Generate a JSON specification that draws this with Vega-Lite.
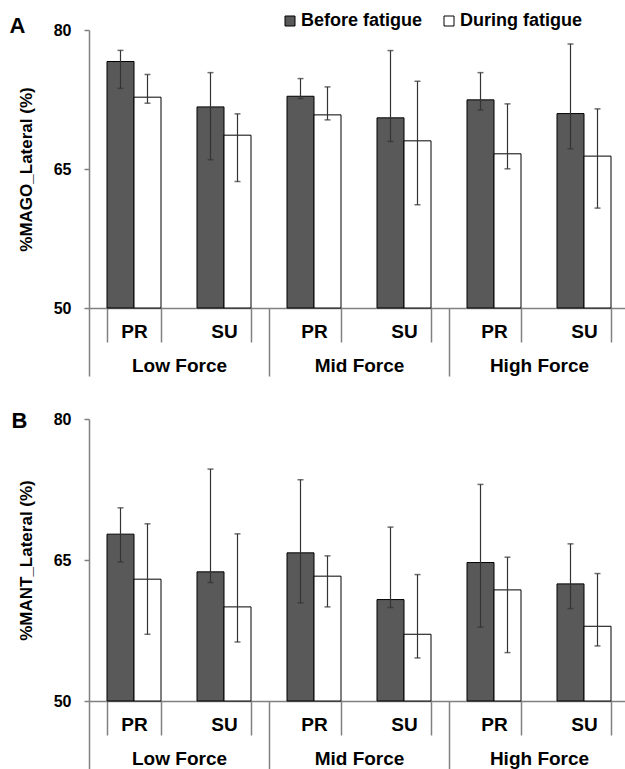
{
  "$schema": "https://vega.github.io/schema/vega-lite/v6.json",
  "padding": {"left": 9, "top": 12, "right": 0, "bottom": 0},
  "background": "white",
  "config": {
    "view": {"stroke": null},
    "font": "Liberation Sans",
    "axis": {"labelColor": "black", "titleColor": "black", "labelFont": "Liberation Sans", "titleFont": "Liberation Sans"}
  },
  "datasets": {
    "A": [
      {"force": "Low Force", "cond": "PR", "cat": "Low Force|PR", "time": "Before fatigue", "value": 76.6, "lo": 73.7, "hi": 77.8},
      {"force": "Low Force", "cond": "PR", "cat": "Low Force|PR", "time": "During fatigue", "value": 72.75, "lo": 72.1, "hi": 75.2},
      {"force": "Low Force", "cond": "SU", "cat": "Low Force|SU", "time": "Before fatigue", "value": 71.7, "lo": 66.0, "hi": 75.4},
      {"force": "Low Force", "cond": "SU", "cat": "Low Force|SU", "time": "During fatigue", "value": 68.65, "lo": 63.65, "hi": 70.95},
      {"force": "Mid Force", "cond": "PR", "cat": "Mid Force|PR", "time": "Before fatigue", "value": 72.85, "lo": 72.6, "hi": 74.76},
      {"force": "Mid Force", "cond": "PR", "cat": "Mid Force|PR", "time": "During fatigue", "value": 70.84, "lo": 70.3, "hi": 73.86},
      {"force": "Mid Force", "cond": "SU", "cat": "Mid Force|SU", "time": "Before fatigue", "value": 70.52, "lo": 67.97, "hi": 77.78},
      {"force": "Mid Force", "cond": "SU", "cat": "Mid Force|SU", "time": "During fatigue", "value": 68.04, "lo": 61.14, "hi": 74.47},
      {"force": "High Force", "cond": "PR", "cat": "High Force|PR", "time": "Before fatigue", "value": 72.46, "lo": 71.38, "hi": 75.4},
      {"force": "High Force", "cond": "PR", "cat": "High Force|PR", "time": "During fatigue", "value": 66.64, "lo": 65.02, "hi": 72.03},
      {"force": "High Force", "cond": "SU", "cat": "High Force|SU", "time": "Before fatigue", "value": 70.98, "lo": 67.18, "hi": 78.49},
      {"force": "High Force", "cond": "SU", "cat": "High Force|SU", "time": "During fatigue", "value": 66.39, "lo": 60.78, "hi": 71.49}
    ],
    "B": [
      {"force": "Low Force", "cond": "PR", "cat": "Low Force|PR", "time": "Before fatigue", "value": 67.75, "lo": 64.8, "hi": 70.55},
      {"force": "Low Force", "cond": "PR", "cat": "Low Force|PR", "time": "During fatigue", "value": 62.96, "lo": 57.1, "hi": 68.85},
      {"force": "Low Force", "cond": "SU", "cat": "Low Force|SU", "time": "Before fatigue", "value": 63.74, "lo": 62.6, "hi": 74.67},
      {"force": "Low Force", "cond": "SU", "cat": "Low Force|SU", "time": "During fatigue", "value": 60.01, "lo": 56.28, "hi": 67.78},
      {"force": "Mid Force", "cond": "PR", "cat": "Mid Force|PR", "time": "Before fatigue", "value": 65.76, "lo": 60.44, "hi": 73.54},
      {"force": "Mid Force", "cond": "PR", "cat": "Mid Force|PR", "time": "During fatigue", "value": 63.28, "lo": 60.01, "hi": 65.44},
      {"force": "Mid Force", "cond": "SU", "cat": "Mid Force|SU", "time": "Before fatigue", "value": 60.79, "lo": 59.94, "hi": 68.5},
      {"force": "Mid Force", "cond": "SU", "cat": "Mid Force|SU", "time": "During fatigue", "value": 57.1, "lo": 54.58, "hi": 63.45},
      {"force": "High Force", "cond": "PR", "cat": "High Force|PR", "time": "Before fatigue", "value": 64.73, "lo": 57.85, "hi": 73.04},
      {"force": "High Force", "cond": "PR", "cat": "High Force|PR", "time": "During fatigue", "value": 61.82, "lo": 55.15, "hi": 65.3},
      {"force": "High Force", "cond": "SU", "cat": "High Force|SU", "time": "Before fatigue", "value": 62.46, "lo": 59.83, "hi": 66.72},
      {"force": "High Force", "cond": "SU", "cat": "High Force|SU", "time": "During fatigue", "value": 57.95, "lo": 55.86, "hi": 63.56}
    ]
  },
  "spacing": 32,
  "resolve": {"scale": {"fill": "independent"}},
  "vconcat": [
    {
      "width": 540,
      "height": 278,
      "data": {"name": "A"},
      "layer": [
        {
          "encoding": {
            "x": {"field": "cat", "type": "nominal", "sort": null,
              "scale": {"paddingInner": 0.4, "paddingOuter": 0.2},
              "axis": {"orient": "bottom", "title": null, "labelExpr": "split(datum.label, '|')[1]", "labelAngle": 0, "labelFontSize": 19, "labelFontWeight": "bold", "labelPadding": -20, "tickBand": "extent", "tickSize": 34, "tickColor": "#808080", "tickWidth": 1.5, "domainColor": "#808080", "domainWidth": 1.5}},
            "xOffset": {"field": "time", "type": "nominal", "sort": ["Before fatigue", "During fatigue"], "scale": {"paddingInner": 0, "paddingOuter": 0}}
          },
          "layer": [
            {
              "mark": {"type": "bar", "stroke": "black", "strokeWidth": 1},
              "encoding": {
                "y": {"field": "value", "type": "quantitative",
                  "scale": {"domain": [50, 80], "zero": false, "nice": false},
                  "axis": {"orient": "left", "values": [50, 65, 80], "grid": false, "title": "%MAGO_Lateral (%)", "titleFontSize": 17, "titleFontWeight": "bold", "titlePadding": 18, "labelFontSize": 16, "labelFontWeight": "bold", "tickSize": 5, "labelPadding": 13, "tickColor": "#808080", "tickWidth": 1.5, "domainColor": "#808080", "domainWidth": 1.5}},
                "y2": {"datum": 50},
                "fill": {"field": "time", "type": "nominal",
                  "scale": {"domain": ["Before fatigue", "During fatigue"], "range": ["#595959", "#ffffff"]},
                  "legend": {"orient": "none", "legendX": 192, "legendY": -18, "direction": "horizontal", "title": null, "symbolType": "square", "symbolSize": 100, "symbolStrokeColor": "black", "symbolStrokeWidth": 1, "labelFontSize": 18, "labelFontWeight": "bold", "labelColor": "black", "labelOffset": 2, "columnPadding": 17, "padding": 0}}
              }
            },
            {
              "mark": {"type": "rule", "color": "#333333", "strokeWidth": 1.2},
              "encoding": {"y": {"field": "lo", "type": "quantitative"}, "y2": {"field": "hi"}}
            },
            {
              "mark": {"type": "tick", "orient": "horizontal", "size": 6, "thickness": 1.5, "color": "#333333"},
              "encoding": {"y": {"field": "lo", "type": "quantitative"}}
            },
            {
              "mark": {"type": "tick", "orient": "horizontal", "size": 6, "thickness": 1.5, "color": "#333333"},
              "encoding": {"y": {"field": "hi", "type": "quantitative"}}
            }
          ]
        },
        {
          "mark": {"type": "rule", "strokeOpacity": 0},
          "encoding": {
            "x": {"field": "force", "type": "nominal", "sort": ["Low Force", "Mid Force", "High Force"],
              "scale": {"paddingInner": 0, "paddingOuter": 0},
              "axis": {"orient": "bottom", "title": null, "domain": false, "labelAngle": 0, "labelFontSize": 19, "labelFontWeight": "bold", "labelPadding": -20, "tickBand": "extent", "tickSize": 68, "tickColor": "#808080", "tickWidth": 1.5}}
          }
        },
        {
          "mark": {"type": "point", "opacity": 0},
          "encoding": {
            "y": {"field": "value", "type": "quantitative", "scale": {"domain": [50, 80], "zero": false, "nice": false},
              "axis": {"orient": "left", "domain": false, "ticks": false, "labels": false, "grid": false, "title": "A", "titleAngle": 0, "titleX": -80, "titleY": 2, "titleAlign": "left", "titleBaseline": "alphabetic", "titleFontSize": 22, "titleFontWeight": "bold"}}
          }
        }
      ],
      "resolve": {"scale": {"x": "independent", "y": "independent"}, "axis": {"x": "independent", "y": "independent"}}
    },
    {
      "width": 540,
      "height": 282,
      "data": {"name": "B"},
      "layer": [
        {
          "encoding": {
            "x": {"field": "cat", "type": "nominal", "sort": null,
              "scale": {"paddingInner": 0.4, "paddingOuter": 0.2},
              "axis": {"orient": "bottom", "title": null, "labelExpr": "split(datum.label, '|')[1]", "labelAngle": 0, "labelFontSize": 19, "labelFontWeight": "bold", "labelPadding": -20, "tickBand": "extent", "tickSize": 34, "tickColor": "#808080", "tickWidth": 1.5, "domainColor": "#808080", "domainWidth": 1.5}},
            "xOffset": {"field": "time", "type": "nominal", "sort": ["Before fatigue", "During fatigue"], "scale": {"paddingInner": 0, "paddingOuter": 0}}
          },
          "layer": [
            {
              "mark": {"type": "bar", "stroke": "black", "strokeWidth": 1},
              "encoding": {
                "y": {"field": "value", "type": "quantitative",
                  "scale": {"domain": [50, 80], "zero": false, "nice": false},
                  "axis": {"orient": "left", "values": [50, 65, 80], "grid": false, "title": "%MANT_Lateral (%)", "titleFontSize": 17, "titleFontWeight": "bold", "titlePadding": 18, "labelFontSize": 16, "labelFontWeight": "bold", "tickSize": 5, "labelPadding": 13, "tickColor": "#808080", "tickWidth": 1.5, "domainColor": "#808080", "domainWidth": 1.5}},
                "y2": {"datum": 50},
                "fill": {"field": "time", "type": "nominal",
                  "scale": {"domain": ["Before fatigue", "During fatigue"], "range": ["#595959", "#ffffff"]},
                  "legend": null}
              }
            },
            {
              "mark": {"type": "rule", "color": "#333333", "strokeWidth": 1.2},
              "encoding": {"y": {"field": "lo", "type": "quantitative"}, "y2": {"field": "hi"}}
            },
            {
              "mark": {"type": "tick", "orient": "horizontal", "size": 6, "thickness": 1.5, "color": "#333333"},
              "encoding": {"y": {"field": "lo", "type": "quantitative"}}
            },
            {
              "mark": {"type": "tick", "orient": "horizontal", "size": 6, "thickness": 1.5, "color": "#333333"},
              "encoding": {"y": {"field": "hi", "type": "quantitative"}}
            }
          ]
        },
        {
          "mark": {"type": "rule", "strokeOpacity": 0},
          "encoding": {
            "x": {"field": "force", "type": "nominal", "sort": ["Low Force", "Mid Force", "High Force"],
              "scale": {"paddingInner": 0, "paddingOuter": 0},
              "axis": {"orient": "bottom", "title": null, "domain": false, "labelAngle": 0, "labelFontSize": 19, "labelFontWeight": "bold", "labelPadding": -20, "tickBand": "extent", "tickSize": 68, "tickColor": "#808080", "tickWidth": 1.5}}
          }
        },
        {
          "mark": {"type": "point", "opacity": 0},
          "encoding": {
            "y": {"field": "value", "type": "quantitative", "scale": {"domain": [50, 80], "zero": false, "nice": false},
              "axis": {"orient": "left", "domain": false, "ticks": false, "labels": false, "grid": false, "title": "B", "titleAngle": 0, "titleX": -78, "titleY": 8, "titleAlign": "left", "titleBaseline": "alphabetic", "titleFontSize": 22, "titleFontWeight": "bold"}}
          }
        }
      ],
      "resolve": {"scale": {"x": "independent", "y": "independent"}, "axis": {"x": "independent", "y": "independent"}}
    }
  ]
}
